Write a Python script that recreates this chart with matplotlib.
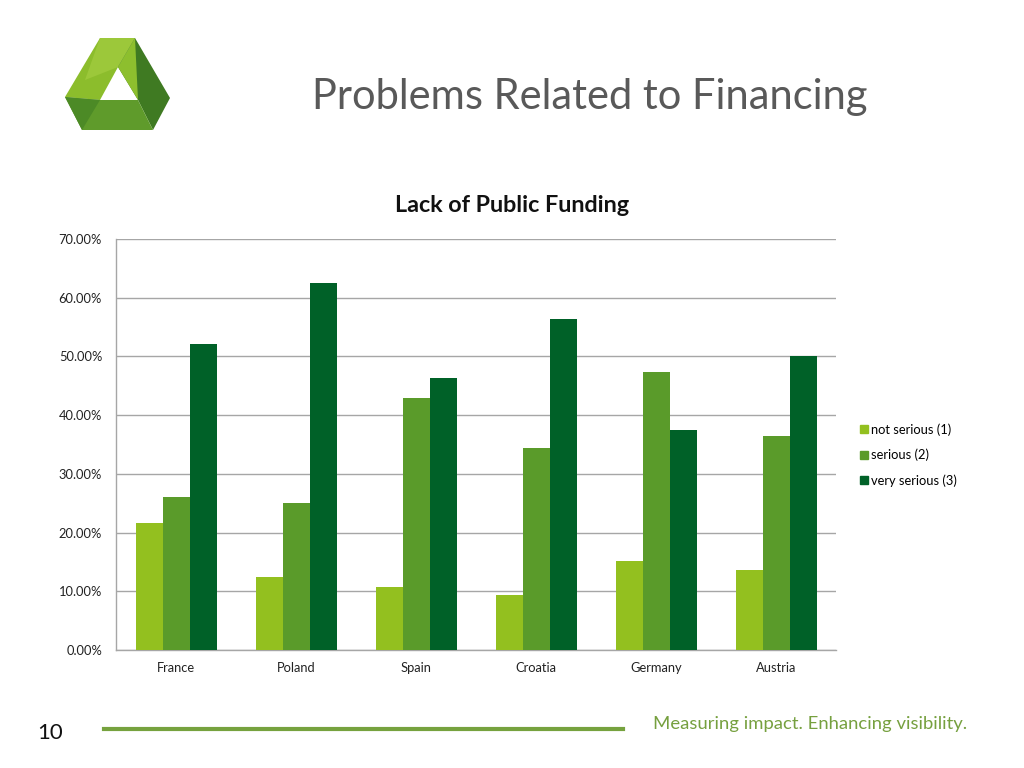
import matplotlib
matplotlib.use("Agg")
import matplotlib.pyplot as plt
import numpy as np
from matplotlib.patches import Polygon
from matplotlib.lines import Line2D

plt.rcParams['font.family'] = ['Lato', 'DejaVu Sans']

categories = ["France", "Poland", "Spain", "Croatia", "Germany", "Austria"]
series_names = ["not serious (1)", "serious (2)", "very serious (3)"]
not_serious = [21.7, 12.5, 10.7, 9.4, 15.2, 13.6]
serious = [26.0, 25.0, 42.9, 34.4, 47.3, 36.4]
very_serious = [52.2, 62.5, 46.4, 56.3, 37.5, 50.0]
yticks = [0, 10, 20, 30, 40, 50, 60, 70]
colors = ["#93C01F", "#5A9B2A", "#006128"]

W, H = 1024, 768
fig = plt.figure(figsize=(W / 100, H / 100), dpi=100)

def fx(px):
    return px / W

def fy(py):
    return 1 - py / H

# Axes
ax = fig.add_axes([fx(116), fy(650), fx(836) - fx(116), fy(239) - fy(650)])
x = np.arange(len(categories))
bw = 0.225
for i, vals in enumerate([not_serious, serious, very_serious]):
    ax.bar(x + (i - 1) * bw, vals, width=bw, color=colors[i], label=series_names[i], zorder=3)

ax.set_xlim(-0.5, len(categories) - 0.5)
ax.set_ylim(0, 70)
ax.set_yticks(yticks)
ax.set_yticklabels([f"{v:.2f}%" for v in yticks], fontsize=9.3, color="#222222")
ax.set_xticks(x)
ax.set_xticklabels(categories, fontsize=9.3, color="#222222")
ax.tick_params(axis='both', length=0)
ax.tick_params(axis='x', pad=9)
ax.tick_params(axis='y', pad=10)
ax.yaxis.grid(True, color="#A6A6A6", linewidth=1.0, zorder=0)
for s in ["top", "right"]:
    ax.spines[s].set_visible(False)
for s in ["left", "bottom"]:
    ax.spines[s].set_color("#A6A6A6")
    ax.spines[s].set_linewidth(1.0)

# Legend
handles = [Line2D([0], [0], marker='s', linestyle='none', markersize=6,
                  markerfacecolor=c, markeredgecolor=c) for c in colors]
fig.legend(handles, series_names, loc='upper left', bbox_to_anchor=(fx(852), fy(418)),
           frameon=False, fontsize=9.3, handletextpad=0.1, labelspacing=1.0,
           handlelength=1.0, borderaxespad=0)

# Titles
fig.text(fx(590), fy(97), "Problems Related to Financing", fontsize=30, color="#595959",
         ha='center', va='center')
fig.text(fx(512), fy(206), "Lack of Public Funding", fontsize=16.8, fontweight='bold',
         color="#111111", ha='center', va='center')

# Logo
def poly(pts, color):
    fig.patches.append(Polygon([(fx(a), fy(b)) for a, b in pts], closed=True,
                               facecolor=color, edgecolor='none',
                               transform=fig.transFigure, figure=fig))

poly([(100, 38), (135, 38), (118, 67), (100, 100), (65, 97)], "#8CBD2C")
poly([(100, 38), (135, 38), (118, 67), (85, 80)], "#9CC83A")
poly([(135, 38), (170, 98), (153, 130), (138, 100), (118, 67)], "#3F7A22")
poly([(135, 38), (138, 100), (118, 67)], "#8DBF2E")
poly([(65, 97), (100, 100), (138, 100), (153, 130), (82, 130)], "#5F9B2B")
poly([(65, 97), (100, 100), (82, 130)], "#4C8A26")

# Footer
fig.text(fx(50), fy(733), "10", fontsize=16, color="#111111", ha='center', va='center')
fig.add_artist(Line2D([fx(104), fx(623)], [fy(729), fy(729)], color="#76A23E",
                      linewidth=3, transform=fig.transFigure))
fig.text(fx(810), fy(724), "Measuring impact. Enhancing visibility.", fontsize=13.3,
         color="#76A03F", ha='center', va='center')

fig.savefig("out.png", dpi=100)
